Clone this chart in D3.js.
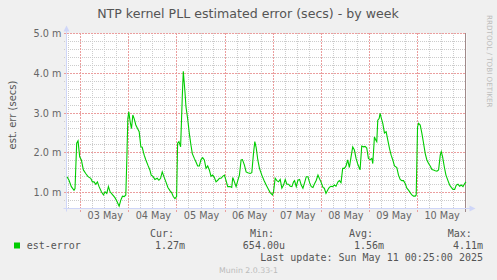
<!DOCTYPE html>
<html>
<head>
<meta charset="utf-8">
<script src="https://cdn.jsdelivr.net/npm/d3@7"></script>
<style>
  body { margin: 0; background: #f0f0f0; }
  svg { display: block; }
  text { font-family: 'DejaVu Sans', sans-serif; fill: #666; }
  .mono { font-family: 'DejaVu Sans Mono', monospace; font-size: 10px; fill: #555; }
</style>
</head>
<body>
<script>
// samples, 'DD HH:MM' (UTC, May 2025) and value in millisecs
const stamps = [
  '02 17:10', '02 18:10', '02 19:20', '02 20:40', '02 21:10', '02 22:00', '02 22:40', '02 23:30',
  '03 00:20', '03 01:20', '03 02:30', '03 03:40', '03 05:00', '03 05:50', '03 06:40', '03 07:30',
  '03 08:20', '03 09:10', '03 10:20', '03 11:20', '03 12:10', '03 13:00', '03 13:50', '03 14:40',
  '03 15:50', '03 17:00', '03 18:00', '03 19:10', '03 20:00', '03 20:50', '03 21:40', '03 22:30',
  '03 23:00', '03 23:30', '04 00:00', '04 00:40', '04 01:20', '04 02:00', '04 02:40', '04 03:30',
  '04 04:20', '04 05:10', '04 06:00', '04 06:40', '04 07:40', '04 08:30', '04 09:30', '04 10:30',
  '04 11:10', '04 12:10', '04 13:00', '04 14:10', '04 15:00', '04 15:50', '04 16:40', '04 17:30',
  '04 18:30', '04 19:30', '04 20:30', '04 21:20', '04 22:10', '04 23:00', '04 23:50', '05 00:20',
  '05 01:00', '05 01:50', '05 02:40', '05 03:10', '05 04:00', '05 04:30', '05 05:20', '05 06:10',
  '05 07:00', '05 07:40', '05 08:40', '05 09:30', '05 10:20', '05 11:10', '05 12:00', '05 12:50',
  '05 13:40', '05 14:30', '05 15:20', '05 16:10', '05 17:00', '05 17:50', '05 18:40', '05 19:30',
  '05 20:20', '05 21:10', '05 22:00', '05 22:50', '05 23:40', '06 00:30', '06 01:20', '06 02:30',
  '06 03:20', '06 03:50', '06 04:40', '06 05:30', '06 06:20', '06 07:10', '06 08:00', '06 08:40',
  '06 09:40', '06 10:30', '06 11:20', '06 12:30', '06 13:20', '06 14:10', '06 14:50', '06 15:30',
  '06 16:20', '06 17:10', '06 18:20', '06 19:30', '06 20:30', '06 21:40', '06 22:30', '06 23:40',
  '07 00:10', '07 01:00', '07 01:50', '07 02:40', '07 03:30', '07 04:20', '07 05:10', '07 06:00',
  '07 06:50', '07 07:40', '07 08:30', '07 09:20', '07 10:10', '07 10:40', '07 11:30', '07 12:20',
  '07 13:10', '07 14:00', '07 14:50', '07 15:40', '07 16:30', '07 17:20', '07 18:10', '07 19:00',
  '07 19:50', '07 20:30', '07 21:30', '07 22:20', '07 23:00', '07 23:50', '08 00:50', '08 01:30',
  '08 02:20', '08 03:20', '08 04:00', '08 04:50', '08 05:40', '08 06:30', '08 07:20', '08 08:20',
  '08 09:00', '08 09:50', '08 10:40', '08 11:30', '08 12:20', '08 13:10', '08 14:00', '08 14:50',
  '08 15:40', '08 16:30', '08 17:20', '08 18:10', '08 19:20', '08 20:10', '08 21:00', '08 21:50',
  '08 22:40', '08 23:30', '09 00:20', '09 01:10', '09 01:40', '09 02:30', '09 03:10', '09 03:40',
  '09 04:10', '09 04:50', '09 05:20', '09 05:50', '09 06:40', '09 07:30', '09 08:20', '09 09:10',
  '09 10:00', '09 10:50', '09 11:40', '09 12:30', '09 13:40', '09 14:30', '09 15:20', '09 16:10',
  '09 17:00', '09 17:50', '09 18:40', '09 19:30', '09 20:20', '09 21:10', '09 22:00', '09 22:50',
  '09 23:20', '10 00:00', '10 00:30', '10 01:20', '10 02:10', '10 03:00', '10 03:50', '10 04:40',
  '10 05:30', '10 06:20', '10 07:10', '10 08:00', '10 08:50', '10 09:40', '10 10:30', '10 11:20',
  '10 11:50', '10 12:30', '10 13:20', '10 14:10', '10 15:10', '10 16:00', '10 16:50', '10 17:40',
  '10 18:30', '10 19:20', '10 20:10', '10 21:00', '10 21:50', '10 22:40', '10 23:30', '11 00:10'
]
const estErr = [
  1.40, 1.31, 1.15, 1.06, 1.10, 2.24, 2.30, 1.90,
  1.82, 1.57, 1.48, 1.40, 1.36, 1.27, 1.27, 1.21,
  1.27, 1.15, 1.02, 0.94, 1.02, 0.98, 1.15, 1.02,
  0.95, 0.88, 0.79, 0.66, 0.81, 0.91, 0.90, 0.94,
  1.82, 2.86, 3.03, 2.78, 2.61, 2.95, 2.86, 2.70,
  2.61, 2.53, 2.15, 2.14, 1.94, 1.82, 1.69, 1.57,
  1.44, 1.40, 1.33, 1.36, 1.31, 1.36, 1.52, 1.40,
  1.27, 1.13, 1.05, 1.00, 0.90, 0.85, 0.90, 2.24,
  2.28, 2.15, 3.41, 4.05, 3.53, 3.16, 2.86, 2.49,
  2.19, 1.98, 1.86, 1.77, 1.67, 1.67, 1.83, 1.88,
  1.82, 1.61, 1.67, 1.57, 1.41, 1.44, 1.38, 1.27,
  1.31, 1.36, 1.36, 1.41, 1.44, 1.30, 1.15, 1.15,
  1.13, 1.38, 1.27, 1.15, 1.30, 1.44, 1.82, 1.83,
  1.69, 1.52, 1.50, 1.48, 1.50, 1.98, 2.28, 2.14,
  1.82, 1.61, 1.44, 1.30, 1.19, 1.08, 1.00, 0.94,
  1.02, 1.36, 1.30, 1.27, 1.33, 1.11, 1.19, 1.33,
  1.21, 1.21, 1.16, 1.15, 1.27, 1.30, 1.15, 1.31,
  1.33, 1.19, 1.11, 1.25, 1.40, 1.40, 1.25, 1.15,
  1.13, 1.21, 1.31, 1.44, 1.36, 1.27, 1.13, 1.11,
  0.98, 1.08, 1.13, 1.16, 1.15, 1.19, 1.16, 1.27,
  1.30, 1.25, 1.61, 1.61, 1.67, 1.82, 1.63, 1.90,
  2.15, 2.07, 1.86, 1.72, 1.57, 2.17, 2.15, 2.16,
  2.12, 1.86, 1.83, 1.86, 1.73, 2.40, 2.32, 2.28,
  2.82, 2.86, 2.99, 2.89, 2.74, 2.50, 2.53, 2.32,
  2.11, 1.94, 1.82, 1.67, 1.63, 1.44, 1.33, 1.30,
  1.30, 1.23, 1.11, 1.06, 1.00, 0.94, 0.91, 0.91,
  0.94, 2.65, 2.74, 2.70, 2.49, 2.24, 1.98, 1.82,
  1.73, 1.67, 1.58, 1.57, 1.55, 1.54, 1.57, 1.94,
  2.03, 1.90, 1.65, 1.44, 1.30, 1.19, 1.13, 1.08,
  1.08, 1.19, 1.21, 1.16, 1.19, 1.15, 1.23, 1.27
]

const timeSpan = ['02 16:55', '11 00:25']
const errSpan = [0.6, 5.0]
const yTicks = [1.0, 2.0, 3.0, 4.0, 5.0]
const dayTicks = ['03', '04', '05', '06', '07', '08', '09', '10']
const midnights = ['03', '04', '05', '06', '07', '08', '09', '10', '11']

const legendHead = ['Cur:', 'Min:', 'Avg:', 'Max:']
const legendVals = ['1.27m', '654.00u', '1.56m', '4.11m']

const W = 497, H = 280
const plotL = 66.5, plotR = 466.5, plotT = 33.5, plotB = 208.5
const green = '#00cc00'
const axisCol = '#cfd6f8'
const minorCol = '#cccccc'
const majorCol = '#eb9e9e'

const parseStamp = s => d3.utcParse('%Y-%m-%d %H:%M')('2025-05-' + s)
const series = stamps.map((s, i) => ({ t: parseStamp(s), v: estErr[i] }))

const x = d3.scaleUtc().domain(timeSpan.map(parseStamp)).range([plotL, plotR])
const y = d3.scaleLinear().domain(errSpan).range([plotB, plotT])
// snap to the middle of a pixel so 1px lines stay sharp
const px = v => Math.round(v - 0.5) + 0.5

const svg = d3.select(document.body).append('svg')
  .attr('width', W)
  .attr('height', H)
  .attr('xmlns', 'http://www.w3.org/2000/svg')

svg.append('rect').attr('width', W).attr('height', H).attr('fill', '#f0f0f0')
svg.append('rect')
  .attr('x', plotL).attr('y', plotT)
  .attr('width', plotR - plotL).attr('height', plotB - plotT)
  .attr('fill', '#fff')

const grid = svg.append('g').attr('stroke-width', 1)

// dashes start on whole pixels, otherwise every dash gets smeared over two
const hLine = (sel, col, dash) => sel
  .attr('x1', 64).attr('x2', 466)
  .attr('y1', d => px(y(d))).attr('y2', d => px(y(d)))
  .attr('stroke', col).attr('stroke-dasharray', dash)
const vLine = (sel, col, y2, dash) => sel
  .attr('x1', d => px(x(d))).attr('x2', d => px(x(d)))
  .attr('y1', 33).attr('y2', y2)
  .attr('stroke', col).attr('stroke-dasharray', dash)

// minor grid: every 0.2 m and every 6 hours
const minorY = d3.range(0.8, 5.0, 0.2).filter(v => Math.abs(v - Math.round(v)) > 0.01)
grid.selectAll('.my').data(minorY).join('line').call(hLine, minorCol, '1,1')

const sixHours = d3.utcHour.every(6).range(x.domain()[0], x.domain()[1])
  .filter(d => d.getUTCHours() !== 0)
grid.selectAll('.mx').data(sixHours).join('line').call(vLine, minorCol, 208, '1,1')

// major grid
grid.selectAll('.My').data(yTicks).join('line').call(hLine, majorCol, '2,1')

const midDates = midnights.map(d => parseStamp(d + ' 00:00'))
grid.selectAll('.Mx').data(midDates.slice(0, -1)).join('line').call(vLine, majorCol, 212, '2,1')
// the last midnight sits on the right edge and shows as a solid darker rule
const edgeX = px(x(midDates[midDates.length - 1]))
grid.append('line')
  .attr('x1', edgeX).attr('x2', edgeX)
  .attr('y1', 33).attr('y2', 212)
  .attr('stroke', '#a08a8a')

// axis lines with arrows
const ax = svg.append('g')
ax.append('line').attr('x1', plotL - 3).attr('x2', plotR + 4).attr('y1', plotB).attr('y2', plotB)
  .attr('stroke', axisCol)
ax.append('line').attr('x1', plotL).attr('x2', plotL).attr('y1', plotB + 3).attr('y2', plotT - 4)
  .attr('stroke', axisCol)
svg.append('path')
  .attr('d', `M${plotR + 3},${plotB - 3}L${plotR + 9},${plotB}L${plotR + 3},${plotB + 3}Z`)
  .attr('fill', axisCol)
svg.append('path')
  .attr('d', `M${plotL - 3},${plotT - 2}L${plotL},${plotT - 8}L${plotL + 3},${plotT - 2}Z`)
  .attr('fill', axisCol)

// tick labels through d3 axes
const yAxis = svg.append('g')
  .attr('transform', `translate(${plotL - 5},0)`)
  .call(d3.axisLeft(y).tickValues(yTicks).tickSize(0).tickPadding(0)
    .tickFormat(d => d3.format('.1f')(d) + ' m'))
yAxis.select('.domain').remove()
yAxis.selectAll('text').attr('font-family', 'DejaVu Sans').attr('font-size', 9.7).attr('fill', '#555')

const noons = dayTicks.map(d => parseStamp(d + ' 12:00'))
const xAxis = svg.append('g')
  .attr('transform', `translate(0,${plotB + 4})`)
  .call(d3.axisBottom(x).tickValues(noons).tickSize(0).tickPadding(0)
    .tickFormat(d3.utcFormat('%d %b')))
xAxis.select('.domain').remove()
xAxis.selectAll('text').attr('font-family', 'DejaVu Sans').attr('font-size', 9.7).attr('fill', '#555')

// the series
svg.append('path')
  .datum(series)
  .attr('d', d3.line().x(d => x(d.t)).y(d => y(d.v)))
  .attr('fill', 'none')
  .attr('stroke', green)
  .attr('stroke-width', 1.1)

// titles
svg.append('text')
  .attr('x', 248).attr('y', 18)
  .attr('text-anchor', 'middle')
  .attr('font-size', 12.6)
  .style('fill', '#555')
  .text('NTP kernel PLL estimated error (secs) - by week')

svg.append('text')
  .attr('transform', 'translate(15.5,115) rotate(-90)')
  .attr('text-anchor', 'middle')
  .attr('font-size', 10)
  .style('fill', '#555')
  .text('est. err (secs)')

svg.append('text')
  .attr('transform', 'translate(486.5,15) rotate(90)')
  .attr('font-size', 7.2)
  .style('fill', '#bdbdbd')
  .text('RRDTOOL / TOBI OETIKER')

// legend
const headX = [150, 250, 349, 447.7]
const valX = [185, 285, 384, 483]
svg.selectAll('.lh').data(legendHead).join('text')
  .attr('class', 'mono')
  .attr('x', (d, i) => headX[i]).attr('y', 237)
  .text(d => d)
svg.selectAll('.lv').data(legendVals).join('text')
  .attr('class', 'mono')
  .attr('x', (d, i) => valX[i]).attr('y', 249.3)
  .attr('text-anchor', 'end')
  .text(d => d)

svg.append('rect')
  .attr('x', 14).attr('y', 242.5).attr('width', 6).attr('height', 6)
  .attr('fill', green)
svg.append('text').attr('class', 'mono').attr('x', 26.7).attr('y', 249.3).text('est-error')

svg.append('text').attr('class', 'mono')
  .attr('x', 483).attr('y', 261.3).attr('text-anchor', 'end')
  .text('Last update: Sun May 11 00:25:00 2025')

svg.append('text')
  .attr('x', 248.5).attr('y', 272.5)
  .attr('text-anchor', 'middle')
  .attr('font-size', 7.8)
  .style('fill', '#bbb')
  .text('Munin 2.0.33-1')
</script>
</body>
</html>
